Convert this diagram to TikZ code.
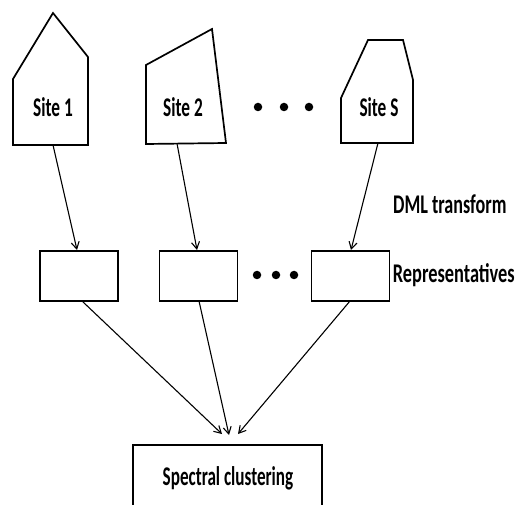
\documentclass[tikz,border=0pt]{standalone}
\usepackage{fontspec}
\usepackage{graphicx}
\setmainfont{Carlito}
\usetikzlibrary{arrows.meta}
\newcommand{\sqz}[2][0.66]{\scalebox{#1}[1]{#2}}
\tikzset{
  shapeline/.style={line width=1.7pt, line join=miter},
  repbox/.style={draw, line width=1.8pt, minimum width=78pt, minimum height=50pt, inner sep=0pt},
  lbl/.style={font=\fontsize{27}{30}\selectfont\bfseries, inner sep=0pt},
  conn/.style={line width=1.1pt, -{Straight Barb[length=7pt,width=8pt,line width=1.1pt]}},
  dot/.style={circle, fill=black, inner sep=0pt, minimum width=6pt, minimum height=8.5pt}
}
\begin{document}
\begin{tikzpicture}[x=1pt,y=-1pt]
\useasboundingbox (0,0) rectangle (517,505);
% Site 1
\draw[shapeline] (13,145) -- (13,79) -- (53,13) -- (88,57) -- (88,145) -- cycle;
\node[lbl] (s1) at (53,107) {\sqz[0.64]{Site 1}};
\coordinate (s1b) at (53,145);
% Site 2
\draw[shapeline] (146,144) -- (146,65) -- (212,29) -- (226,143) -- cycle;
\node[lbl] (s2) at (183,107) {\sqz[0.64]{Site 2}};
\coordinate (s2b) at (177,143.5);
% Site S
\draw[shapeline] (341,143) -- (341,98) -- (368,40) -- (403,40) -- (413,80) -- (413,143) -- cycle;
\node[lbl] (sS) at (379,107) {\sqz[0.64]{Site S}};
\coordinate (sSb) at (378,143);
% top dots
\node[dot] (d1) at (258,107) {};
\node[dot] (d2) at (284,107) {};
\node[dot] (d3) at (309,107) {};
% representatives
\node[repbox] (r1) at (79,276) {};
\node[repbox] (r2) at (198.5,276) {};
\node[repbox] (r3) at (350.5,276) {};
\node[dot] (e1) at (257,275) {};
\node[dot] (e2) at (276,275) {};
\node[dot] (e3) at (294,275) {};
% labels
\node[lbl, anchor=west] (dml) at (393,204) {\sqz[0.67]{DML transform}};
\node[lbl, anchor=east] (rep) at (515,275) {\sqz[0.68]{Representatives}};
% spectral clustering
\draw[line width=1.8pt] (133,520) -- (133,445) -- (322,445) -- (322,520);
\node[lbl] (sc) at (228,478) {\sqz[0.635]{Spectral clustering}};
\coordinate (sctop) at (228,445);
% connectors
\coordinate (r1t) at (77,250);
\coordinate (r2t) at (197,250);
\coordinate (r3t) at (351,250);
\draw[conn] (s1b) -- (r1t);
\draw[conn] (s2b) -- (r2t);
\draw[conn] (sSb) -- (r3t);
\coordinate (t1) at (222,434);
\coordinate (t2) at (229,435);
\coordinate (t3) at (238,434);
\draw[conn] (82,301) -- (t1);
\draw[conn] (199,301) -- (t2);
\draw[conn] (350,301) -- (t3);
\end{tikzpicture}
\end{document}
